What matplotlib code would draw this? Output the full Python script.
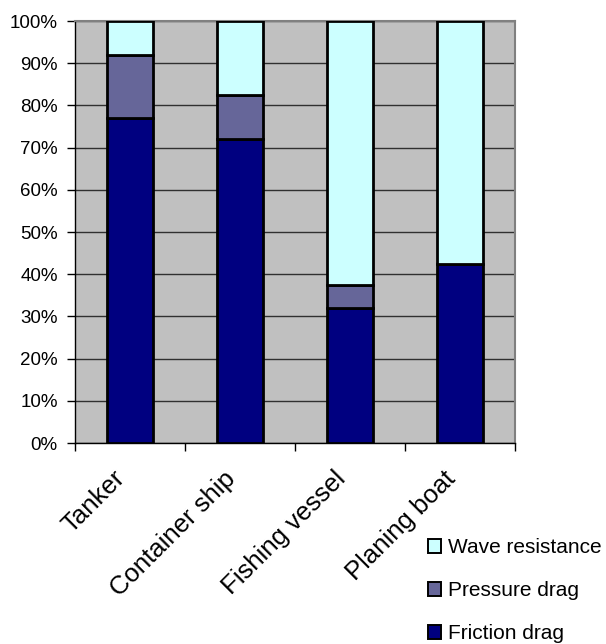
import numpy as np
import matplotlib.pyplot as plt
from matplotlib.patches import Patch

plt.rcParams['font.family'] = ['Liberation Sans', 'DejaVu Sans']

# Share of total resistance per vessel type (%)
vessels = ["Tanker", "Container ship", "Fishing vessel", "Planing boat"]
friction = [77, 72, 32, 42.5]
pressure = [15, 10.5, 5.5, 0]
wave = [8, 17.5, 62.5, 57.5]

c_friction = "#000080"
c_pressure = "#666699"
c_wave = "#CCFFFF"

fig = plt.figure(figsize=(6.06, 6.44), dpi=100)
ax = fig.add_axes([0.1238, 0.312, 0.726, 0.6553])
ax.set_facecolor("#C0C0C0")

x = np.arange(len(vessels))
w = 0.41
bottom = np.zeros(len(vessels))
for vals, col in [(friction, c_friction), (pressure, c_pressure), (wave, c_wave)]:
    ax.bar(x, vals, w, bottom=bottom, color=col, edgecolor="black", linewidth=2.0, zorder=3)
    bottom += np.array(vals)

ax.set_xlim(-0.5, len(vessels) - 0.5)
ax.set_ylim(0, 100)
ax.set_yticks(np.arange(0, 101, 10))
ax.set_yticklabels([f"{v}%" for v in range(0, 101, 10)], fontsize=13.5)
ax.yaxis.grid(True, color="#303030", linewidth=1.0, zorder=1)
ax.set_axisbelow(True)

ax.set_xticks(x)
ax.set_xticklabels(vessels, fontsize=18.5, rotation=45, ha="right", va="bottom", rotation_mode="anchor")
ax.set_xticks(np.arange(-0.5, len(vessels), 1.0), minor=True)
ax.tick_params(axis="x", which="major", length=0, pad=29)
ax.tick_params(axis="x", which="minor", length=6, width=1, direction="out")
ax.tick_params(axis="y", length=5.5, width=1, direction="out", pad=7)

for s in ["top", "right"]:
    ax.spines[s].set_color("#808080")
    ax.spines[s].set_linewidth(1.5)
for s in ["left", "bottom"]:
    ax.spines[s].set_color("black")
    ax.spines[s].set_linewidth(1.0)

handles = [Patch(facecolor=c_wave, edgecolor="black", linewidth=1.4, label="Wave resistance"),
           Patch(facecolor=c_pressure, edgecolor="black", linewidth=1.4, label="Pressure drag"),
           Patch(facecolor=c_friction, edgecolor="black", linewidth=1.4, label="Friction drag")]
fig.legend(handles=handles, loc="lower left", bbox_to_anchor=(0.675, -0.028), frameon=False,
           fontsize=15, handlelength=0.65, handleheight=0.65, handletextpad=0.3, labelspacing=1.15)

fig.savefig("out.png", dpi=100)
